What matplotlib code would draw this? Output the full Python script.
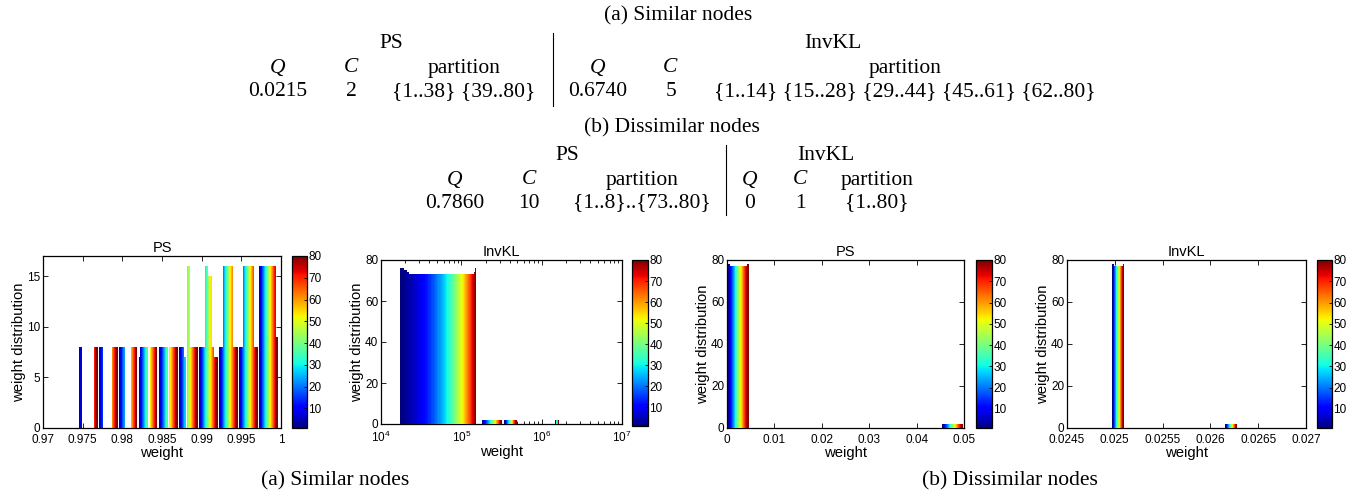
import numpy as np
import matplotlib
matplotlib.use('Agg')
import matplotlib.pyplot as plt
from matplotlib import colors, cm

W, H = 1364, 495
plt.rcParams['font.family'] = ['Liberation Sans', 'DejaVu Sans']

# ---- table at the top ----
sim_ps = ['0.0215', '2', '{1..38} {39..80}']
sim_invkl = ['0.6740', '5', '{1..14} {15..28} {29..44} {45..61} {62..80}']
dis_ps = ['0.7860', '10', '{1..8}..{73..80}']
dis_invkl = ['0', '1', '{1..80}']

# ---- weight histograms: 80 nodes, 10 bins each ----
n_nodes = 80
cbar_ticks = [10, 20, 30, 40, 50, 60, 70, 80]

# PS, similar nodes
ps_sim_centers = [0.97564, 0.97816, 0.98068, 0.98320, 0.98573,
                  0.98825, 0.99077, 0.99329, 0.99581, 0.99833]
ps_sim_group = 0.00221
# (first node, last node, count) per bin
ps_sim_counts = [
    [(1, 8, 8), (69, 80, 8)],
    [(1, 14, 8), (62, 80, 8)],
    [(1, 23, 8), (57, 80, 8)],
    [(1, 6, 7), (7, 35, 8), (52, 80, 8)],
    [(1, 11, 8), (12, 14, 7), (15, 35, 8), (45, 80, 8)],
    [(1, 19, 8), (20, 27, 7), (36, 46, 16), (47, 80, 8)],
    [(1, 27, 8), (28, 38, 16), (39, 54, 15), (55, 66, 8), (67, 80, 7)],
    [(1, 20, 8), (21, 61, 16), (62, 80, 8)],
    [(1, 17, 8), (18, 66, 16), (67, 80, 8)],
    [(1, 73, 16), (74, 80, 9)],
]

# InvKL, similar nodes
invkl_sim_centers = [0.835e5, 2.455e5, 4.075e5, 5.695e5, 7.315e5,
                     8.935e5, 10.555e5, 12.175e5, 13.795e5, 15.415e5]
invkl_sim_group = 1.33e5
invkl_sim_counts = [
    [(1, 1, 76), (2, 2, 75), (3, 3, 74), (4, 76, 73), (77, 78, 74), (79, 79, 75), (80, 80, 76)],
    [(1, 80, 2)],
    [(1, 80, 2)],
    [], [], [], [], [], [],
    [(1, 80, 2)],
]

# PS, dissimilar nodes
ps_dis_centers = [0.0023, 0.0073, 0.0123, 0.0173, 0.0224,
                  0.0274, 0.0324, 0.0374, 0.0425, 0.0475]
ps_dis_group = 0.0041
ps_dis_counts = [
    [(1, 2, 78), (3, 78, 77), (79, 80, 78)],
    [], [], [], [], [], [], [], [],
    [(1, 80, 2)],
]

# InvKL, dissimilar nodes
invkl_dis_centers = [0.025030, 0.025162, 0.025293, 0.025425, 0.025556,
                     0.025688, 0.025819, 0.025951, 0.026082, 0.026214]
invkl_dis_group = 0.000113
invkl_dis_counts = [
    [(1, 3, 78), (4, 77, 77), (78, 80, 78)],
    [], [], [], [], [], [], [], [],
    [(1, 80, 2)],
]


def px_axes(fig, x0, y0, x1, y1):
    return fig.add_axes([x0 / W, 1 - y1 / H, (x1 - x0) / W, (y1 - y0) / H])


def draw_hist(ax, centers, gw, counts):
    cols = cm.jet(np.linspace(0, 1, n_nodes))
    bw = gw / n_nodes
    offs = (np.arange(n_nodes) + 0.5) * bw - gw / 2
    for c, segs in zip(centers, counts):
        h = np.zeros(n_nodes)
        for a, b, v in segs:
            h[a - 1:b] = v
        ax.bar(c + offs, h, width=bw, color=cols, edgecolor=cols,
               linewidth=0.5, align='center', antialiased=False, zorder=3)


def style_axes(ax, title):
    ax.set_title(title, fontsize=10.5, pad=3)
    ax.set_xlabel('weight', fontsize=10.7, labelpad=0)
    ax.set_ylabel('weight distribution', fontsize=10.7, labelpad=1)
    ax.tick_params(which='both', direction='in', top=True, right=True,
                   labelsize=8.5, pad=2, width=0.6)
    ax.tick_params(axis='x', pad=4)
    ax.tick_params(which='major', length=3.5)
    ax.tick_params(which='minor', length=2)
    for s in ax.spines.values():
        s.set_linewidth(0.9)


def add_cbar(fig, box):
    cax = px_axes(fig, *box)
    sm = cm.ScalarMappable(norm=colors.Normalize(1, 80), cmap='jet')
    cb = fig.colorbar(sm, cax=cax, ticks=cbar_ticks)
    cb.ax.tick_params(labelsize=8.5, pad=1, direction='in', length=2.5, width=0.6)
    cb.outline.set_linewidth(0.9)


fig = plt.figure(figsize=(W / 100, H / 100), dpi=100)

# panel 1
ax1 = px_axes(fig, 43, 256, 281, 428)
draw_hist(ax1, ps_sim_centers, ps_sim_group, ps_sim_counts)
ax1.set_xlim(0.97, 1.0)
ax1.set_ylim(0, 17)
ax1.set_xticks([0.97, 0.975, 0.98, 0.985, 0.99, 0.995, 1.0],
               ['0.97', '0.975', '0.98', '0.985', '0.99', '0.995', '1'])
ax1.set_yticks([0, 5, 10, 15])
style_axes(ax1, 'PS')
add_cbar(fig, (292, 256, 307, 428))

# panel 2
ax2 = px_axes(fig, 381, 260, 622, 424)
ax2.set_xscale('log')
draw_hist(ax2, invkl_sim_centers, invkl_sim_group, invkl_sim_counts)
ax2.set_xlim(1e4, 1e7)
ax2.set_ylim(0, 80)
ax2.set_yticks([0, 20, 40, 60, 80])
style_axes(ax2, 'InvKL')
add_cbar(fig, (632, 260, 648, 426))

# panel 3
ax3 = px_axes(fig, 727, 260, 964, 428)
draw_hist(ax3, ps_dis_centers, ps_dis_group, ps_dis_counts)
ax3.set_xlim(0, 0.05)
ax3.set_ylim(0, 80)
ax3.set_xticks([0, 0.01, 0.02, 0.03, 0.04, 0.05],
               ['0', '0.01', '0.02', '0.03', '0.04', '0.05'])
ax3.set_yticks([0, 20, 40, 60, 80])
style_axes(ax3, 'PS')
add_cbar(fig, (976, 260, 992, 428))

# panel 4
ax4 = px_axes(fig, 1067, 260, 1306, 428)
draw_hist(ax4, invkl_dis_centers, invkl_dis_group, invkl_dis_counts)
ax4.set_xlim(0.0245, 0.027)
ax4.set_ylim(0, 80)
ax4.set_xticks([0.0245, 0.025, 0.0255, 0.026, 0.0265, 0.027],
               ['0.0245', '0.025', '0.0255', '0.026', '0.0265', '0.027'])
ax4.set_yticks([0, 20, 40, 60, 80])
style_axes(ax4, 'InvKL')
add_cbar(fig, (1317, 260, 1332, 428))

# ---- serif text: tables and captions ----
serif = ['Liberation Serif', 'DejaVu Serif']
fs = 15.5


def put(x, y, s, italic=False):
    fig.text(x / W, 1 - y / H, s, ha='center', va='center', fontsize=fs,
             family=serif, style='italic' if italic else 'normal')


def vline(x, y0, y1):
    fig.add_artist(plt.Line2D([x / W, x / W], [1 - y0 / H, 1 - y1 / H],
                              color='black', lw=0.8, transform=fig.transFigure))


put(678, 16, '(a) Similar nodes')
put(391, 43, 'PS')
put(833, 43, 'InvKL')
vline(553, 33, 106)
for x, s in zip([278, 351, 464], ['Q', 'C', 'partition']):
    put(x, 68, s, italic=(s != 'partition'))
for x, s in zip([598, 670, 905], ['Q', 'C', 'partition']):
    put(x, 68, s, italic=(s != 'partition'))
for x, s in zip([278, 351, 464], sim_ps):
    put(x, 92, s)
for x, s in zip([598, 671, 905], sim_invkl):
    put(x, 92, s)

put(672, 128, '(b) Dissimilar nodes')
put(567, 155, 'PS')
put(826, 155, 'InvKL')
vline(726, 145, 215)
for x, s in zip([455, 529, 642], ['Q', 'C', 'partition']):
    put(x, 180, s, italic=(s != 'partition'))
for x, s in zip([750, 800, 877], ['Q', 'C', 'partition']):
    put(x, 180, s, italic=(s != 'partition'))
for x, s in zip([455, 529, 642], dis_ps):
    put(x, 203, s)
for x, s in zip([750, 800, 877], dis_invkl):
    put(x, 203, s)

put(335, 481, '(a) Similar nodes')
put(1010, 481, '(b) Dissimilar nodes')

fig.savefig('out.png', dpi=100)
